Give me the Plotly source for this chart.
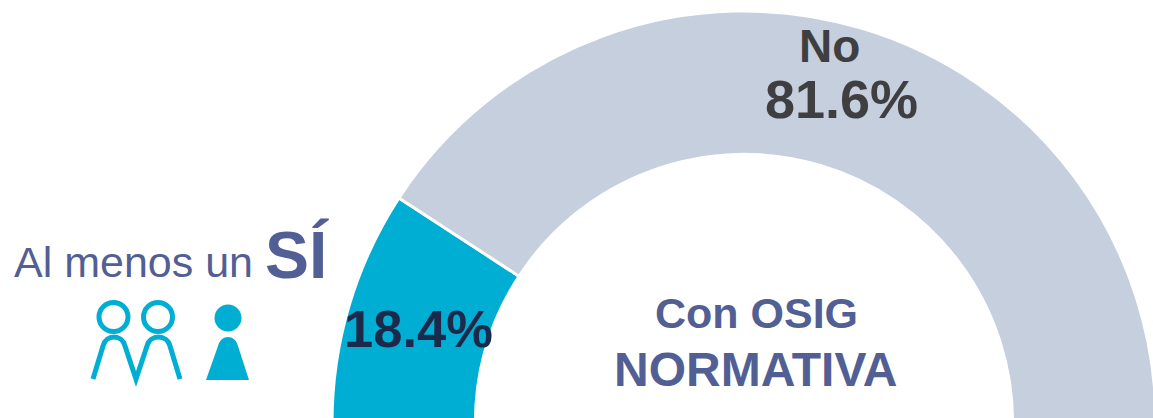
import plotly.graph_objects as go

W, H = 1160, 846
labels = ["Al menos un SÍ", "No", "(oculto)"]
values = [18.4, 81.6, 100]
colors = ["#00AED4", "#C5CFDD", "rgba(255,255,255,0)"]

INK_BLUE = "#525F94"
INK_DARK = "#3F3F42"
INK_NAVY = "#1B2A4A"
TEAL = "#00AED4"


def px(x):
    return x / W


def py(y):
    return 1 - y / H


fig = go.Figure(go.Pie(
    labels=labels, values=values, sort=False, direction="clockwise", rotation=270,
    hole=0.652, textinfo="none", hoverinfo="skip", showlegend=False,
    marker=dict(colors=colors, line=dict(color="white", width=3)),
    domain=dict(x=[332 / W, 1156 / W], y=[11 / H, 835 / H]),
))

texts = [
    ("No", 829, 46, 46, True, INK_DARK),
    ("81.6%", 841, 99, 54, True, INK_DARK),
    ("18.4%", 419, 328, 52.5, True, INK_NAVY),
    ("Con OSIG", 756, 313, 43, True, INK_BLUE),
    ("NORMATIVA", 756, 369, 48, True, INK_BLUE),
    ("Al menos un", 133, 262, 43, False, INK_BLUE),
    ("SÍ", 297, 255, 66, True, INK_BLUE),
]
for t, x, y, s, b, c in texts:
    fig.add_annotation(
        text=f"<b>{t}</b>" if b else t, x=px(x), y=py(y), xref="paper", yref="paper",
        xanchor="center", yanchor="middle", showarrow=False,
        font=dict(family="Liberation Sans", size=s, color=c),
    )


def circle(cx, cy, r, **kw):
    fig.add_shape(type="circle", xref="paper", yref="paper",
                  x0=px(cx - r), x1=px(cx + r), y0=py(cy + r), y1=py(cy - r), **kw)


def path(pts, close=False):
    s = ""
    for cmd, coords in pts:
        s += cmd + " ".join(f"{px(x):.5f},{py(y):.5f}" for x, y in coords) + " "
    return s + ("Z" if close else "")


for cx in (113.5, 158):
    circle(cx, 317, 14.5, line=dict(color=TEAL, width=5), fillcolor="rgba(0,0,0,0)")
circle(228, 318, 13.5, line=dict(width=0), fillcolor=TEAL)

fig.add_shape(type="path", xref="paper", yref="paper",
              path=path([("M", [(93, 379)]), ("L", [(103, 346)]),
                         ("C", [(106, 334), (122, 334), (125, 346)]), ("L", [(136, 379)]),
                         ("L", [(147, 346)]), ("C", [(150, 334), (167, 334), (170, 346)]),
                         ("L", [(180, 379)])]),
              line=dict(color=TEAL, width=5), fillcolor="rgba(0,0,0,0)")
fig.add_shape(type="path", xref="paper", yref="paper",
              path=path([("M", [(206, 380)]), ("L", [(218, 346)]),
                         ("C", [(221, 334), (235, 334), (238, 346)]), ("L", [(249, 380)])], True),
              line=dict(width=0), fillcolor=TEAL)

fig.update_layout(width=W, height=H, margin=dict(l=0, r=0, t=0, b=0),
                  paper_bgcolor="white", plot_bgcolor="white")
fig.write_html("out.html", config=dict(displayModeBar=False),
               post_script="document.body.style.margin='0';document.body.style.overflow='hidden';document.documentElement.style.overflow='hidden';")
